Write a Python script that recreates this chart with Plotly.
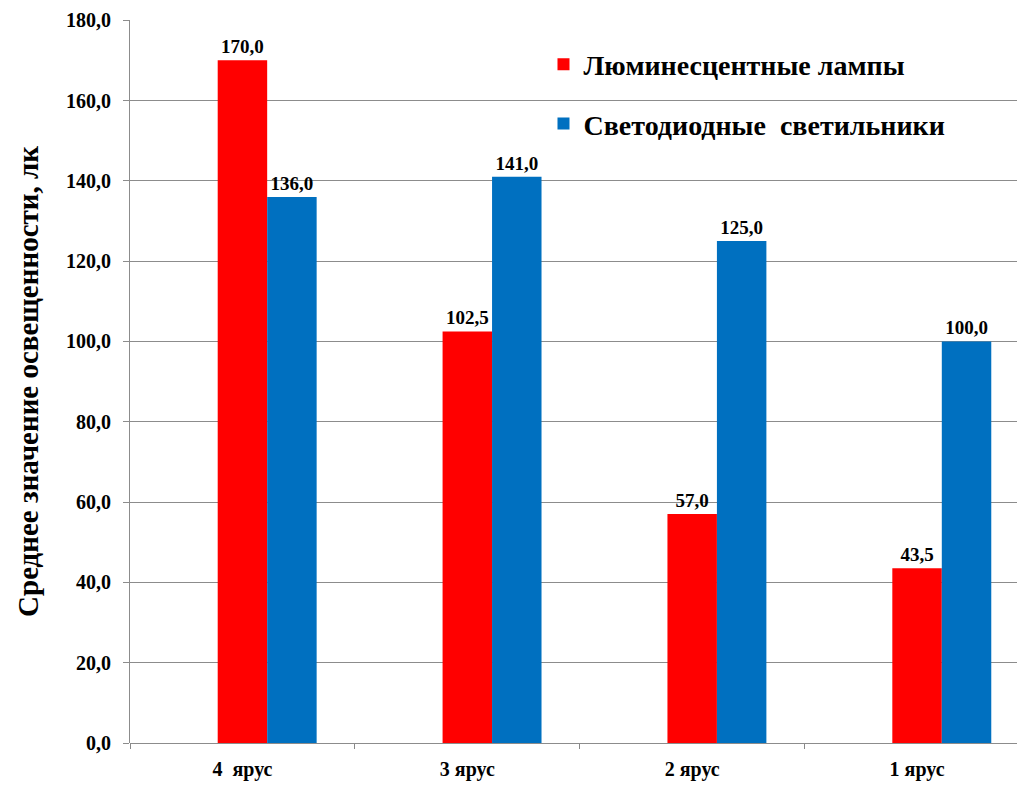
import plotly.graph_objects as go

categories = ["4  ярус", "3 ярус", "2 ярус", "1 ярус"]
lum_values = [170.0, 102.5, 57.0, 43.5]
led_values = [136.0, 141.0, 125.0, 100.0]
series_names = ["Люминесцентные лампы", "Светодиодные  светильники"]
y_ticks = [0, 20, 40, 60, 80, 100, 120, 140, 160, 180]

FONT = "'Liberation Serif', 'Times New Roman', serif"
RED = "#ff0000"
BLUE = "#0070c0"

fig = go.Figure()
fig.add_trace(go.Bar(
    x=categories, y=lum_values, name=series_names[0],
    marker=dict(color=RED, line=dict(width=0)),
    width=0.22, offset=-0.11,
    texttemplate="%{y:.1f}", textposition="outside", cliponaxis=False,
    textfont=dict(family=FONT, size=19, color="black", weight="bold"),
    legendgroup="a",
))
fig.add_trace(go.Bar(
    x=categories, y=led_values, name=series_names[1],
    marker=dict(color=BLUE, line=dict(width=0)),
    width=0.22, offset=0.11,
    texttemplate="%{y:.1f}", textposition="outside", cliponaxis=False,
    textfont=dict(family=FONT, size=19, color="black", weight="bold"),
    legendgroup="b",
))

fig.update_layout(
    width=1025, height=788,
    margin=dict(l=122, r=8, t=12, b=53, autoexpand=False),
    paper_bgcolor="white", plot_bgcolor="white",
    separators=", ",
    barmode="overlay",
    font=dict(family=FONT, color="black", size=20, weight="bold"),
    showlegend=True,
    legend=dict(
        x=0.462, y=0.973, xanchor="left", yanchor="top",
        bgcolor="rgba(0,0,0,0)",
        font=dict(family=FONT, size=28, color="black", weight="bold"),
        tracegroupgap=20, traceorder="grouped",
    ),
    xaxis=dict(
        range=[-0.5, 3.48], automargin=False,
        showgrid=False, showline=False,
        ticks="outside", tickson="boundaries", ticklen=5, tickcolor="#888888",
        tickfont=dict(family=FONT, size=20, color="black", weight="bold"),
        ticklabelstandoff=12,
        zeroline=False,
    ),
    yaxis=dict(
        range=[0, 180.05], tickvals=y_ticks, tickformat=".1f", automargin=False,
        showgrid=True, gridcolor="#8c8c8c", gridwidth=1,
        showline=True, linecolor="#8c8c8c", linewidth=1,
        ticks="outside", ticklen=6, tickcolor="#8c8c8c",
        tickfont=dict(family=FONT, size=20, color="black", weight="bold"),
        ticklabelstandoff=8, ticklabeloverflow="allow",
        zeroline=True, zerolinecolor="#8c8c8c", zerolinewidth=1,
        title=dict(text="Среднее значение освещенности, лк",
                   font=dict(family=FONT, size=29, color="black", weight="bold"),
                   standoff=18),
    ),
)

fig.write_html("out.html")
